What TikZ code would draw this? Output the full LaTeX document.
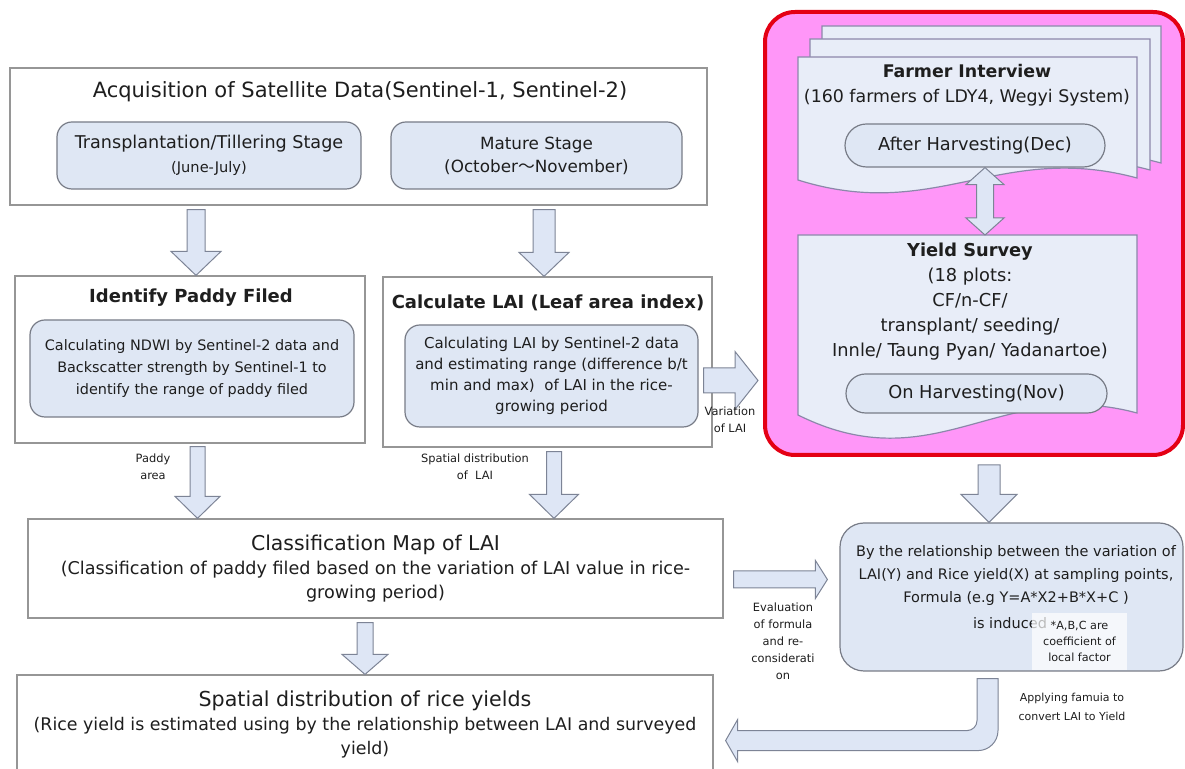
\documentclass[tikz,border=0pt]{standalone}
\usepackage{fontspec}
\setmainfont{DejaVu Sans}
\newfontfamily\cjk{Noto Sans CJK JP}
\usetikzlibrary{calc}
\definecolor{boxline}{RGB}{150,150,150}
\definecolor{rboxline}{RGB}{120,124,135}
\definecolor{boxfill}{RGB}{223,231,244}
\definecolor{docfill}{RGB}{232,237,248}
\definecolor{docline}{RGB}{140,135,170}
\definecolor{pinkfill}{RGB}{255,150,248}
\definecolor{redline}{RGB}{228,0,20}
\definecolor{arrfill}{RGB}{222,230,245}
\definecolor{arrline}{RGB}{125,132,150}
\definecolor{txt}{RGB}{30,30,30}
\newcommand{\fs}[2]{\fontsize{#1}{#2}\selectfont}
% document shape: left, right, top, bottom, dip
\newcommand{\docpath}[5]{(#1,#3) -- (#2,#3) -- (#2,#4) .. controls (#2-137,#4-37) and (#1+137,#4+#5) .. (#1,#4+2) -- cycle}
% block arrows: from, to, shaft half, head half, head length
\newcommand{\downblock}[5]{\filldraw[blockarrow] let \p1=#1, \p2=#2 in
  (\x2-#3,\y1) -- (\x2+#3,\y1) -- (\x2+#3,\y2+#5) -- (\x2+#4,\y2+#5) -- (\x2,\y2)
  -- (\x2-#4,\y2+#5) -- (\x2-#3,\y2+#5) -- cycle;}
\newcommand{\rightblock}[5]{\filldraw[blockarrow] let \p1=#1, \p2=#2 in
  (\x1,\y1+#3) -- (\x2-#5,\y1+#3) -- (\x2-#5,\y1+#4) -- (\x2,\y1)
  -- (\x2-#5,\y1-#4) -- (\x2-#5,\y1-#3) -- (\x1,\y1-#3) -- cycle;}

\begin{document}
\begin{tikzpicture}[x=0.5pt,y=-0.5pt,
  box/.style={draw=boxline,line width=0.6pt,fill=white,text=txt},
  rbox/.style={draw=rboxline,line width=0.6pt,fill=boxfill,rounded corners=7.5pt,align=center,text=txt},
  txtn/.style={align=center,text=txt,inner sep=0pt},
  lbl/.style={align=center,text=txt,inner sep=0pt,font=\fs{5.7pt}{8.5pt}},
  blockarrow/.style={draw=arrline,fill=arrfill,line width=0.5pt},
  doc/.style={draw=docline,fill=docfill,line width=0.6pt}]
\useasboundingbox[fill=white] (0,0) rectangle (1185,769);

% satellite data
\node[box,minimum width=348.5pt,minimum height=68.5pt] (acq) at (358.5,136.5) {};
\node[txtn,font=\fs{10.5pt}{12pt}] (acqt) at (360,92) {Acquisition of Satellite Data(Sentinel-1, Sentinel-2)};
\node[rbox,minimum width=152pt,minimum height=33.5pt] (tp) at (209,155.5) {\fs{8.8pt}{11.5pt}Transplantation/Tillering Stage\\\fs{7.3pt}{11.5pt}(June-July)};
\node[rbox,minimum width=145.5pt,minimum height=33.5pt,font=\fs{8.4pt}{11.5pt}] (ms) at (536.5,155.5) {Mature Stage\\(October{\cjk 〜}November)};

% paddy field and LAI
\node[box,minimum width=175pt,minimum height=83.5pt] (idp) at (190,359.5) {};
\node[txtn,font=\bfseries\fs{9pt}{12pt}] (idpt) at (191,298) {Identify Paddy Filed};
\node[rbox,minimum width=162pt,minimum height=48.5pt,font=\fs{7.2pt}{11pt}] (idpin) at (192,368.5) {Calculating NDWI by Sentinel-2 data and\\Backscatter strength by Sentinel-1 to\\identify the range of paddy filed};
\node[box,minimum width=164.5pt,minimum height=85pt] (cl) at (547.5,362) {};
\node[txtn,font=\bfseries\fs{9pt}{12pt}] (clt) at (548,303) {Calculate LAI (Leaf area index)};
\node[rbox,minimum width=146.5pt,minimum height=51pt,font=\fs{7.5pt}{10.5pt}] (clin) at (551.5,376) {Calculating LAI by Sentinel-2 data\\and estimating range (difference b/t\\min and max)\ \ of LAI in the rice-\\growing period};

% field survey
\node[draw=redline,line width=2pt,fill=pinkfill,rounded corners=15pt,minimum width=209pt,minimum height=221.5pt] (pink) at (974,233.5) {};
\filldraw[doc] \docpath{822}{1161}{26}{163}{45};
\filldraw[doc] \docpath{810}{1150}{39}{170}{45};
\filldraw[doc] \docpath{798}{1137}{57}{178}{45};
\node[txtn,font=\fs{8.7pt}{12.5pt}] (fi) at (967,85.5) {\textbf{Farmer Interview}\\(160 farmers of LDY4, Wegyi System)};
\node[rbox,rounded corners=10.75pt,minimum width=130pt,minimum height=21.5pt,font=\fs{8.9pt}{10pt}] (ah) at (975,145.5) {After Harvesting(Dec)};
\filldraw[doc] \docpath{798}{1137}{235}{413}{70};
\coordinate (ystop) at (985,235);
\node[txtn,font=\fs{8.9pt}{12.5pt}] (ys) at (970,302) {\textbf{Yield Survey}\\(18 plots:\\CF/n-CF/\\transplant/ seeding/\\Innle/ Taung Pyan/ Yadanartoe)};
\node[rbox,rounded corners=9.75pt,minimum width=130.5pt,minimum height=19.5pt,font=\fs{8.9pt}{10pt}] (oh) at (976.5,393.5) {On Harvesting(Nov)};
\filldraw[blockarrow] let \p1=([xshift=5pt]ah.south), \p2=(ystop) in
  (\x2,\y1) -- (\x2+9.5pt,\y1-8.5pt) -- (\x2+4.25pt,\y1-8.5pt) -- (\x2+4.25pt,\y2+8.5pt) -- (\x2+9.5pt,\y2+8.5pt)
  -- (\x2,\y2) -- (\x2-9.5pt,\y2+8.5pt) -- (\x2-4.25pt,\y2+8.5pt) -- (\x2-4.25pt,\y1-8.5pt) -- (\x2-9.5pt,\y1-8.5pt) -- cycle;

% formula
\node[rbox,rounded corners=12pt,minimum width=171.5pt,minimum height=74pt] (fm) at (1011.5,597) {};
\node[txtn,font=\fs{7.25pt}{11.5pt}] (fmt) at (1016,576) {By the relationship between the variation of\\LAI(Y) and Rice yield(X) at sampling points,\\Formula (e.g Y=A*X2+B*X+C )};
\node[txtn,font=\fs{7.25pt}{9pt}] (ind) at (1010,623) {is induced};
\node[fill=white,fill opacity=0.7,text opacity=1,minimum width=47.5pt,minimum height=28.5pt,inner sep=0pt,align=center,font=\fs{5.6pt}{8pt},text=txt] (note) at (1079.5,641.5) {*A,B,C are\\coefficient of\\local factor};

% maps
\node[box,minimum width=347.5pt,minimum height=49.5pt,align=center,font=\fs{8.8pt}{12pt}] (cls) at (375.5,568.5) {{\fs{10.2pt}{13.5pt}Classification Map of LAI}\\(Classification of paddy filed based on the variation of LAI value in rice-\\growing period)};
\node[box,minimum width=348pt,minimum height=57.5pt] (sp) at (365,732.5) {};
\node[txtn,font=\fs{8.7pt}{12pt}] (spt) at (365,724) {{\fs{10.3pt}{13pt}Spatial distribution of rice yields}\\(Rice yield is estimated using by the relationship between LAI and surveyed\\yield)};

% arrows
\downblock{([yshift=-2pt]acq.south)}{([xshift=3pt]idp.north)}{4.5pt}{12.5pt}{12pt}
\downblock{([yshift=-2pt]acq.south)}{([xshift=-1.75pt]cl.north)}{5.5pt}{12.5pt}{12pt}
\downblock{([yshift=-1.5pt]idp.south)}{([xshift=-89pt]cls.north)}{3.75pt}{11.25pt}{11pt}
\downblock{([yshift=-2pt]cl.south)}{([xshift=89.25pt]cls.north)}{3.75pt}{12.25pt}{12pt}
\downblock{([yshift=-2pt]cls.south)}{(sp.north)}{4pt}{11.5pt}{10pt}
\downblock{([yshift=-4pt]pink.south)}{([xshift=-11.25pt]fm.north)}{5.5pt}{14pt}{14pt}
\rightblock{([xshift=-4.5pt,yshift=-9.25pt]cl.east)}{([xshift=-2.5pt]pink.west)}{6.25pt}{14.5pt}{11.5pt}
\rightblock{([xshift=5pt,yshift=-5.5pt]cls.east)}{([xshift=-6pt]fm.west)}{4.25pt}{9.5pt}{6pt}
\filldraw[blockarrow] let \p1=([xshift=-12pt,yshift=-3.5pt]fm.south), \p2=([xshift=6pt]sp.east) in
  (\x1-5.25pt,\y1) -- (\x1+5.25pt,\y1) -- (\x1+5.25pt,\y1-26pt) arc[start angle=0,end angle=-90,radius=10pt]
  -- (\x2+6pt,\y1-36pt) -- (\x2+6pt,\y1-41.5pt) -- (\x2,\y1-31pt) -- (\x2+6pt,\y1-20.5pt) -- (\x2+6pt,\y1-26pt)
  -- (\x1-10.25pt,\y1-26pt) arc[start angle=-90,end angle=0,radius=5pt] -- cycle;

% labels
\node[lbl] (pa) at (153,467) {Paddy\\area};
\node[lbl] (sdl) at (475,467) {Spatial distribution\\of\ \ LAI};
\node[lbl] (vl) at (730,420) {Variation\\of LAI};
\node[lbl] (ev) at (783,641) {Evaluation\\of formula\\and re-\\considerati\\on};
\node[lbl,font=\fs{5.5pt}{9.5pt}] (ap) at (1072,707) {Applying famuia to\\convert LAI to Yield};
\end{tikzpicture}
\end{document}
